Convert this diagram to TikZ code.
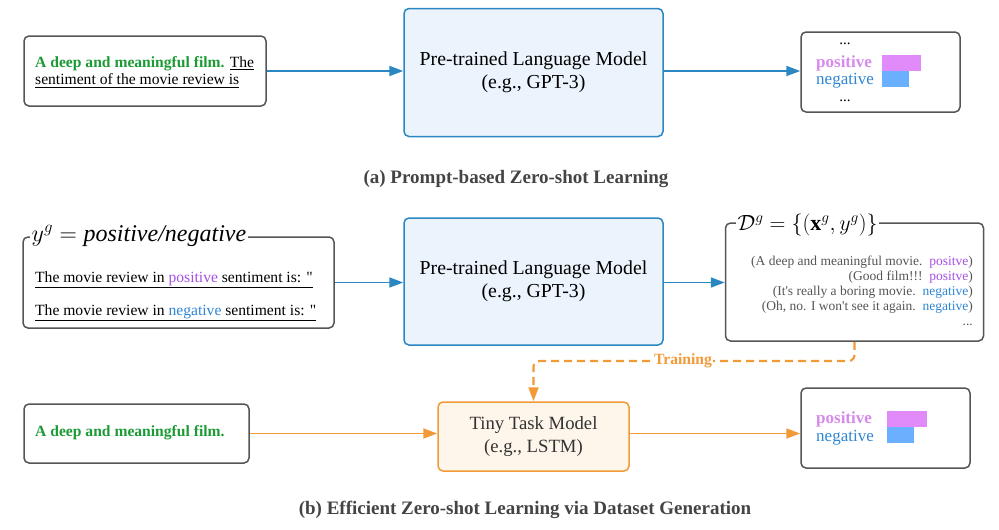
\RequirePackage{fix-cm}
\documentclass[tikz,border=0pt]{standalone}
\usepackage{amsmath}
\usepackage{amssymb}
\usepackage{fontspec}
\setmainfont{Liberation Serif}[Ligatures=TeXOff]
\usepackage{tikz}
\usetikzlibrary{arrows.meta}

\definecolor{boxgray}{HTML}{555555}
\definecolor{lmblue}{HTML}{2A87C2}
\definecolor{lmfill}{HTML}{EBF4FC}
\definecolor{tinyorange}{HTML}{F39A38}
\definecolor{tinyfill}{HTML}{FEF6EB}
\definecolor{filmgreen}{HTML}{1C9A35}
\definecolor{posviolet}{HTML}{A650E6}
\definecolor{poslight}{HTML}{D68AEC}
\definecolor{posbar}{HTML}{E08BF9}
\definecolor{negblue}{HTML}{2F86D4}
\definecolor{negbar}{HTML}{6BB0FF}
\definecolor{capgray}{HTML}{444444}

\newcommand{\fsize}[1]{\fontsize{#1}{1.18\dimexpr#1pt\relax}\selectfont}

\tikzset{
	plainbox/.style={draw=boxgray,line width=1.5pt,rounded corners=5pt,fill=white},
	lmbox/.style={draw=lmblue,line width=1.5pt,rounded corners=5pt,fill=lmfill,align=center,font=\fsize{19.8}},
	tinybox/.style={draw=tinyorange,line width=1.5pt,rounded corners=5pt,fill=tinyfill,align=center,text=black!80,font=\fsize{18.7}},
	blueflow/.style={draw=lmblue,line width=1.8pt,-{Triangle[length=14pt,width=10pt]}},
	orangeflow/.style={draw=tinyorange,line width=1.8pt,-{Triangle[length=14pt,width=10pt]}},
	boxtitle/.style={fill=white,inner sep=1.5pt,anchor=base west},
	caption/.style={font=\bfseries\fsize{19},text=capgray}
}

\begin{document}
\begin{tikzpicture}[x=1pt,y=-1pt]
	\useasboundingbox (0,0) rectangle (999,530);

	%Prompt-based zero-shot learning at the top
	\node [plainbox,minimum width=242pt,minimum height=70pt] (prompt) at (145,71) {};
	\node [anchor=west,align=left,font=\fsize{15.6},inner sep=0pt] at (35,72)
	{\textcolor{filmgreen}{\bfseries A deep and meaningful film.} \underline{The}\\[-1pt]
	\underline{sentiment of the movie review is}};
	\node [lmbox,minimum width=259pt,minimum height=128pt] (lmtop) at (533.5,72.5)
	{Pre-trained Language Model\\(e.g., GPT-3)};
	\node [plainbox,minimum width=159pt,minimum height=80pt] (probtop) at (880.5,72) {};
	\node [font=\fsize{15}] at (845,44) {...};
	\node [anchor=west,inner sep=0pt,font=\bfseries\fsize{17},text=poslight] at (816,63) {positive};
	\node [anchor=west,inner sep=0pt,font=\fsize{17},text=negblue] at (816,81) {negative};
	\fill [posbar] (882,55) rectangle (921,71);
	\fill [negbar] (882,71) rectangle (909,87);
	\node [font=\fsize{15}] at (845,101) {...};

	\draw [blueflow] (prompt.east) -- (prompt.east -| lmtop.west);
	\draw [blueflow] (lmtop.east |- prompt.east) -- (probtop.west |- prompt.east);

	\node [caption] (capa) at (516,179) {(a) Prompt-based Zero-shot Learning};

	%Dataset generation in the middle
	\node [plainbox,minimum width=311pt,minimum height=91pt] (label) at (178.5,282.5) {};
	\node [boxtitle,font=\fsize{24}] at (30,241) {$y^g = \textit{positive/negative}$};
	\node [anchor=west,inner sep=0pt,font=\fsize{15.6}] at (35,280)
	{\underline{The movie review in \textcolor{posviolet}{positive} sentiment is: "}};
	\node [anchor=west,inner sep=0pt,font=\fsize{15.6}] at (35,313)
	{\underline{The movie review in \textcolor{negblue}{negative} sentiment is: "}};
	\node [lmbox,minimum width=259pt,minimum height=127pt] (lmmid) at (533.5,281.5)
	{Pre-trained Language Model\\(e.g., GPT-3)};
	\node [plainbox,minimum width=258pt,minimum height=118pt] (data) at (854.5,282) {};
	\node [boxtitle,font=\fsize{22}] at (736,230) {$\mathcal{D}^g = \{(\mathbf{x}^g, y^g)\}$};
	\node [anchor=east,align=right,inner sep=0pt,text=boxgray,font=\fontsize{13.5}{15}\selectfont] at (973,291)
	{(A deep and meaningful movie.\ \ \textcolor{posviolet}{positve})\\
	(Good film!!!\ \ \textcolor{posviolet}{positve})\\
	(It's really a boring movie.\ \ \textcolor{negblue}{negative})\\
	(Oh, no. I won't see it again.\ \ \textcolor{negblue}{negative})\\
	...};

	\draw [blueflow] (label.east) -- (label.east -| lmmid.west);
	\draw [blueflow] (lmmid.east |- label.east) -- (data.west |- label.east);

	%Efficient zero-shot learning at the bottom
	\node [plainbox,minimum width=225pt,minimum height=59pt] (film) at (136.5,433.5) {};
	\node [anchor=west,inner sep=0pt,font=\bfseries\fsize{15.6},text=filmgreen] at (35,433) {A deep and meaningful film.};
	\node [tinybox,minimum width=191pt,minimum height=69pt] (tiny) at (533.5,436.5)
	{Tiny Task Model\\(e.g., LSTM)};
	\node [plainbox,minimum width=169pt,minimum height=80pt] (probbot) at (885.5,428) {};
	\node [anchor=west,inner sep=0pt,font=\bfseries\fsize{17},text=poslight] at (816,419) {positive};
	\node [anchor=west,inner sep=0pt,font=\fsize{17},text=negblue] at (816,438) {negative};
	\fill [posbar] (887,411) rectangle (927,427);
	\fill [negbar] (887,427) rectangle (914,443);

	\draw [orangeflow] (film.east) -- (film.east -| tiny.west);
	\draw [orangeflow] (tiny.east |- film.east) -- (probbot.west |- film.east);

	%Training link
	\draw [orangeflow,line width=2.2pt,dash pattern=on 8pt off 5pt,rounded corners=6pt] (data.south) |- (683,361)
	node [fill=white,inner sep=1pt,text=tinyorange,font=\bfseries\fsize{15.6}] (train) {Training} -| (tiny.north);

	\node [caption] (capb) at (525,510) {(b) Efficient Zero-shot Learning via Dataset Generation};
\end{tikzpicture}
\end{document}
